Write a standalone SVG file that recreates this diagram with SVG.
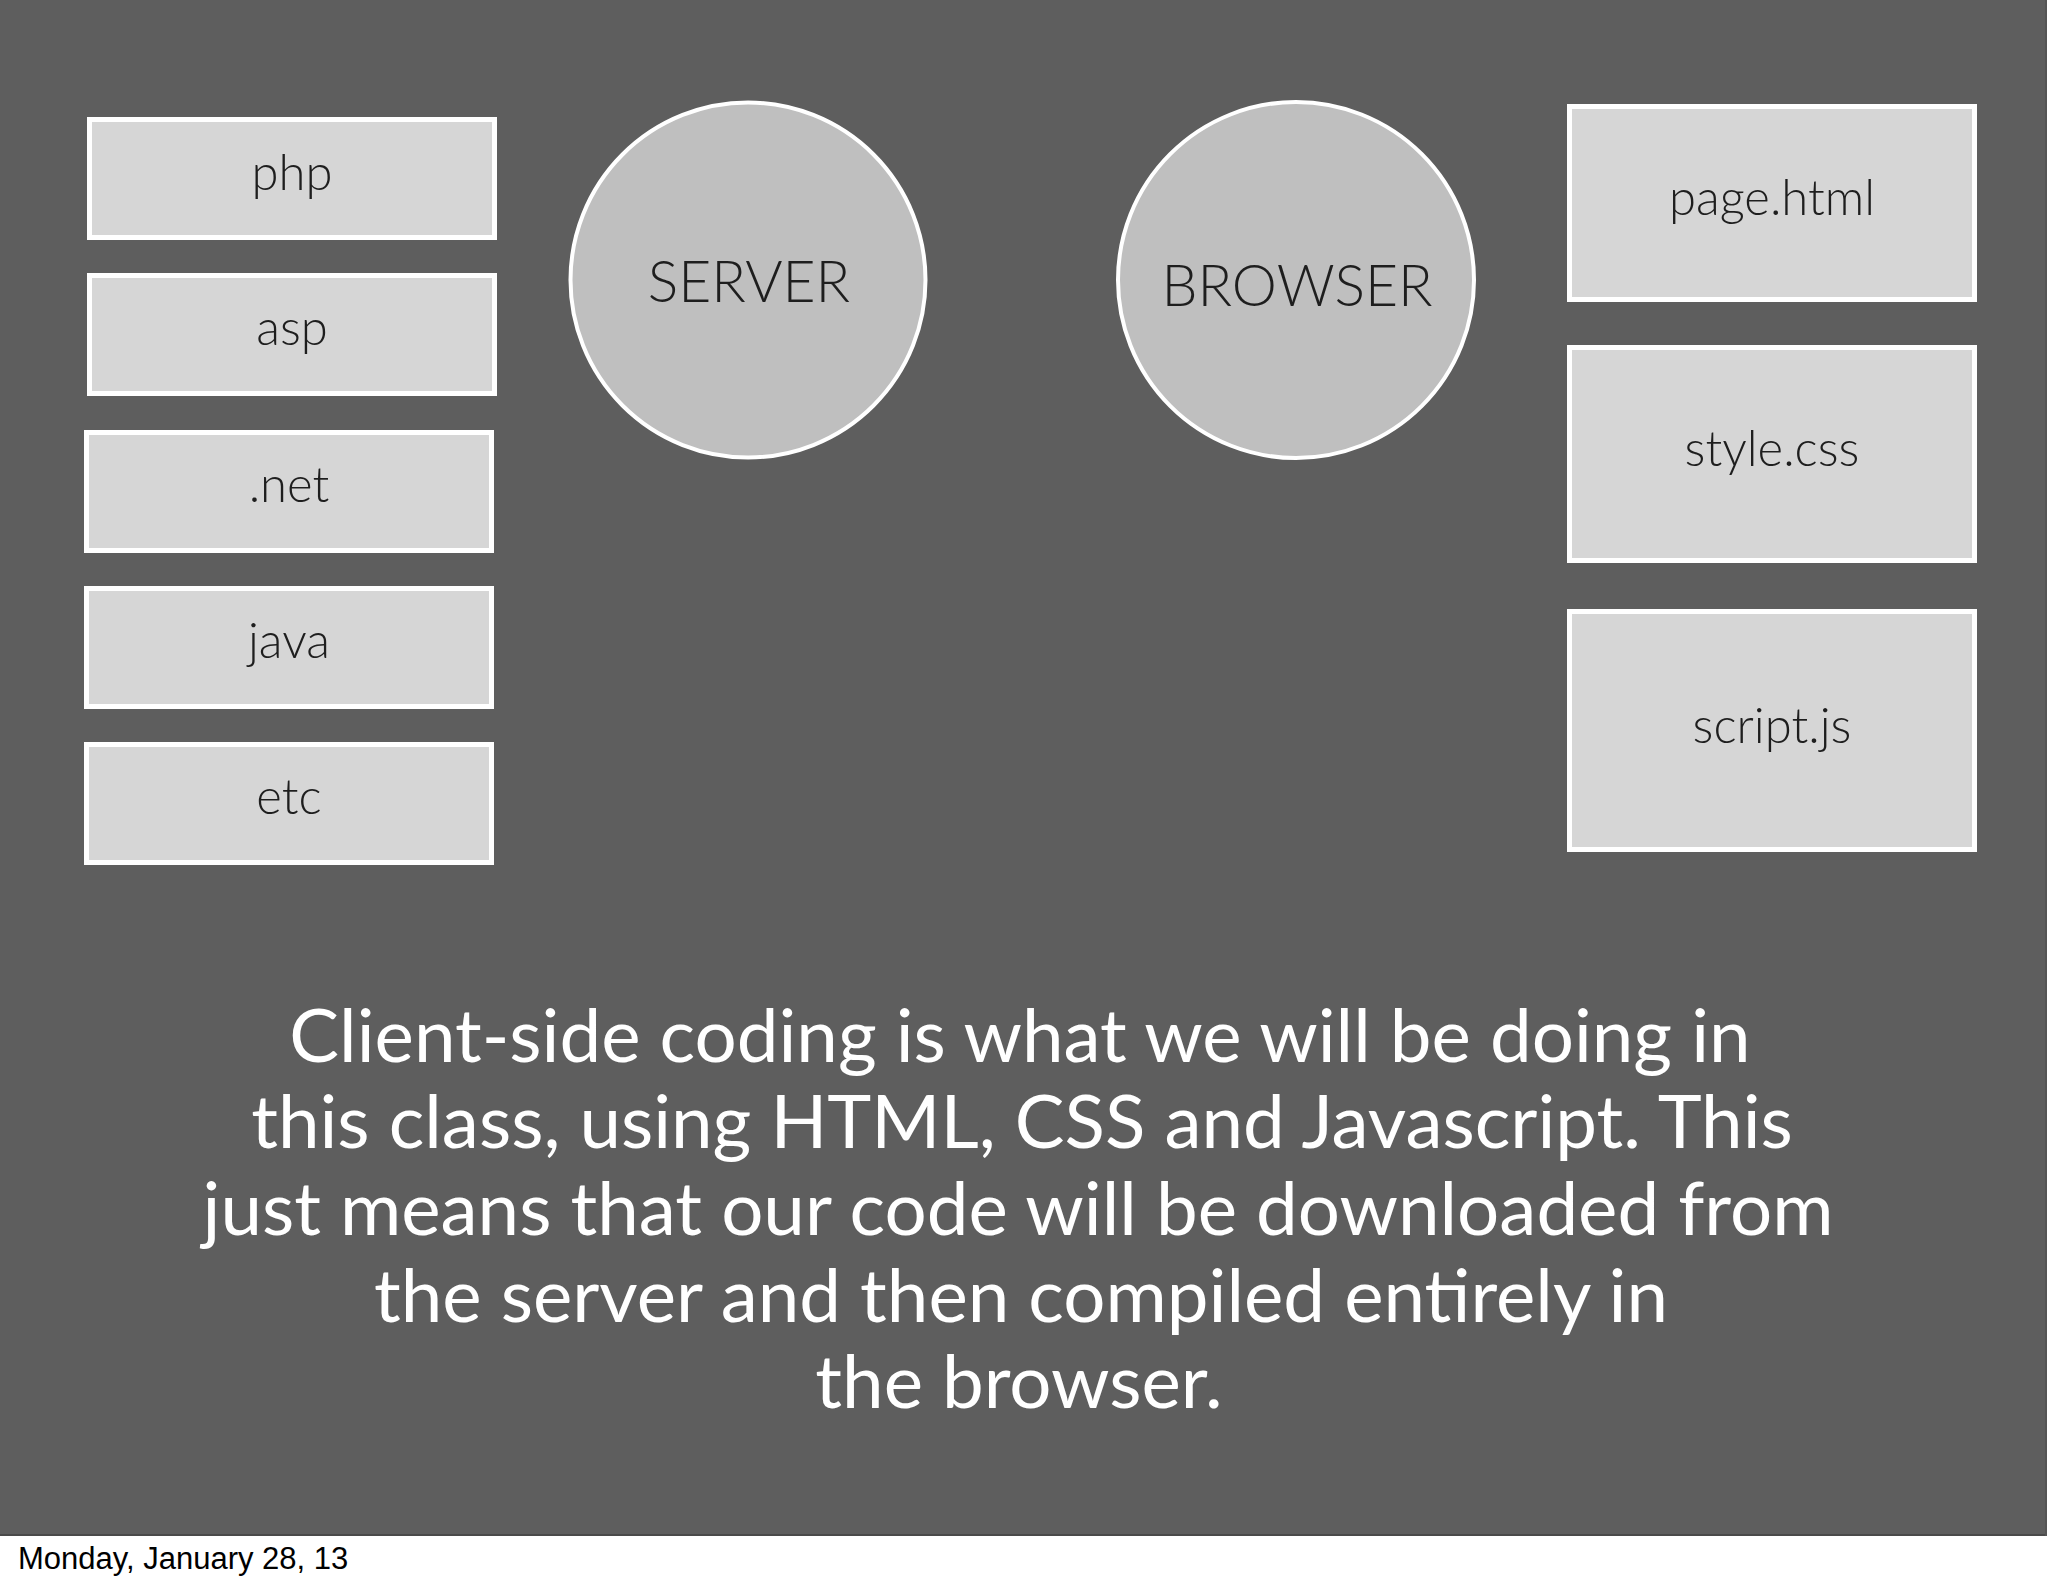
<svg xmlns="http://www.w3.org/2000/svg" width="2048" height="1587" viewBox="0 0 2048 1587">
<style>
.box{fill:#d6d6d6;stroke:#ffffff;stroke-width:5}
.circ{fill:#bfbfbf;stroke:#ffffff;stroke-width:4}
.lbl{font-family:Lato,"Noto Sans",sans-serif;font-weight:300;font-size:49px;fill:#1e1e1e;text-anchor:middle}
.big{font-family:Lato,"Noto Sans",sans-serif;font-weight:300;font-size:57px;fill:#1e1e1e;text-anchor:middle}
.para{font-family:Lato,"Noto Sans",sans-serif;font-size:74.5px;fill:#ffffff;text-anchor:middle}
</style>
<rect x="0" y="0" width="2048" height="1587" fill="#ffffff"/>
<rect x="0" y="0" width="2047" height="1536" fill="#5e5e5e"/>
<line x1="0" y1="1535" x2="2047" y2="1535" stroke="#4a4a4a" stroke-width="2"/>
<line x1="2046" y1="0" x2="2046" y2="1536" stroke="#555555" stroke-width="2"/>
<g id="php"><rect class="box" x="89.5" y="119.5" width="405" height="118"/><text class="lbl" x="292" y="190">php</text></g>
<g id="asp"><rect class="box" x="89.5" y="275.5" width="405" height="118"/><text class="lbl" x="292" y="345">asp</text></g>
<g id="net"><rect class="box" x="86.5" y="432.5" width="405" height="118"/><text class="lbl" x="289" y="502">.net</text></g>
<g id="java"><rect class="box" x="86.5" y="588.5" width="405" height="118"/><text class="lbl" x="289" y="658">java</text></g>
<g id="etc"><rect class="box" x="86.5" y="744.5" width="405" height="118"/><text class="lbl" x="289" y="814">etc</text></g>
<g id="server"><circle class="circ" cx="748" cy="280" r="177.5"/><text class="big" x="749" y="302">SERVER</text></g>
<g id="browser"><circle class="circ" cx="1296" cy="280" r="178"/><text class="big" x="1297" y="306">BROWSER</text></g>
<g id="page-html"><rect class="box" x="1569.5" y="106.5" width="405" height="193"/><text class="lbl" x="1772" y="215">page.html</text></g>
<g id="style-css"><rect class="box" x="1569.5" y="347.5" width="405" height="213"/><text class="lbl" x="1772" y="466">style.css</text></g>
<g id="script-js"><rect class="box" x="1569.5" y="611.5" width="405" height="238"/><text class="lbl" x="1772" y="743">script.js</text></g>
<g id="connectors"></g>
<g id="caption">
<text class="para" x="1020" y="1062">Client-side coding is what we will be doing in</text>
<text class="para" x="1022" y="1148">this class, using HTML, CSS and Javascript. This</text>
<text class="para" x="1018" y="1235">just means that our code will be downloaded from</text>
<text class="para" x="1021" y="1322">the server and then compiled entirely in</text>
<text class="para" x="1019" y="1408">the browser.</text>
</g>
<text x="18" y="1569" font-family="'Liberation Sans',Arial,sans-serif" font-size="31" fill="#000000">Monday, January 28, 13</text>
</svg>
